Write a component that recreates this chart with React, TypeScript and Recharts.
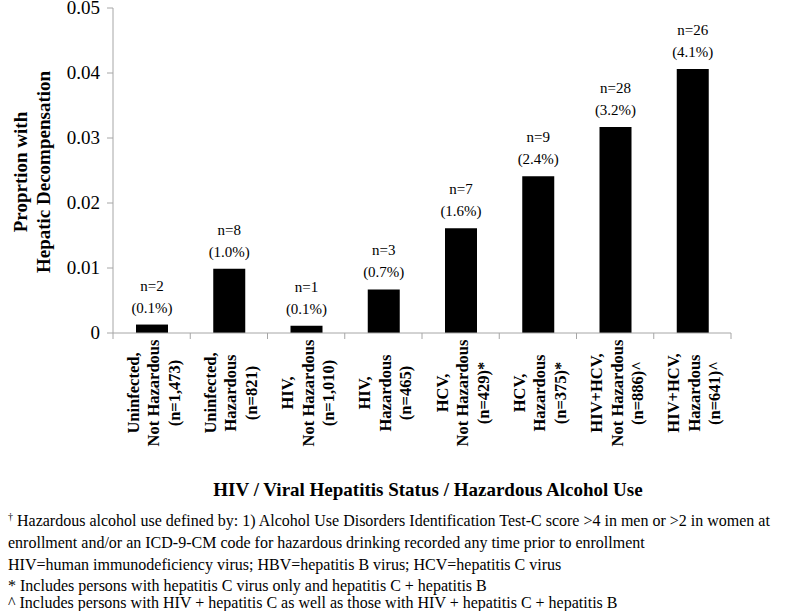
import { BarChart, Bar, XAxis, YAxis, LabelList } from "recharts";

const groups = ["Uninfected,", "Uninfected,", "HIV,", "HIV,", "HCV,", "HCV,", "HIV+HCV,", "HIV+HCV,"];
const alcohol = ["Not Hazardous", "Hazardous", "Not Hazardous", "Hazardous", "Not Hazardous", "Hazardous", "Not Hazardous", "Hazardous"];
const sampleSizes = ["(n=1,473)", "(n=821)", "(n=1,010)", "(n=465)", "(n=429)*", "(n=375)*", "(n=886)^", "(n=641)^"];
const proportions = [0.0013, 0.0099, 0.0011, 0.0067, 0.0161, 0.0241, 0.0317, 0.0406];
const events = [2, 8, 1, 3, 7, 9, 28, 26];
const percents = ["0.1%", "1.0%", "0.1%", "0.7%", "1.6%", "2.4%", "3.2%", "4.1%"];
const yTicks = [0, 0.01, 0.02, 0.03, 0.04, 0.05];

const footnotes = [
  "enrollment and/or an ICD-9-CM code for hazardous drinking recorded any time prior to enrollment",
  "HIV=human immunodeficiency virus; HBV=hepatitis B virus; HCV=hepatitis C virus",
  "* Includes persons with hepatitis C virus only and hepatitis C + hepatitis B",
  "^ Includes persons with HIV + hepatitis C as well as those with HIV + hepatitis C + hepatitis B",
];

const data = proportions.map((v, i) => ({
  key: String(i),
  value: v,
}));

const FONT = "Liberation Serif, Times New Roman, serif";
const AXIS = "#a6a6a6";
const LEFT = 113;
const RIGHT = 731;
const TOP = 8;
const AXIS_Y = 333;
const BAND = (RIGHT - LEFT) / proportions.length;

function XTick({ x, payload }: any) {
  const i = Number(payload.value);
  const lines = [groups[i], alcohol[i], sampleSizes[i]];
  return (
    <g>
      <line x1={x - BAND / 2} x2={x - BAND / 2} y1={AXIS_Y} y2={AXIS_Y + 6} stroke={AXIS} />
      {i === proportions.length - 1 && (
        <line x1={x + BAND / 2} x2={x + BAND / 2} y1={AXIS_Y} y2={AXIS_Y + 6} stroke={AXIS} />
      )}
      <g transform={`translate(${x},393) rotate(-90)`}>
        {lines.map((t, k) => (
          <text
            key={k}
            x={0}
            y={-13 + k * 20.5}
            textAnchor="middle"
            style={{ fontFamily: FONT, fontWeight: "bold", fontSize: 16.5 }}
            fill="#000"
          >
            {t}
          </text>
        ))}
      </g>
    </g>
  );
}

function YTick({ x, y, payload }: any) {
  const v = payload.value;
  return (
    <text x={x} y={y + 6} textAnchor="end" fill="#000" style={{ fontFamily: FONT, fontSize: 19 }}>
      {v === 0 ? "0" : v.toFixed(2)}
    </text>
  );
}

function BarLabel({ x, y, width, index }: any) {
  const cx = x + width / 2;
  const st = { fontFamily: FONT, fontSize: 15 };
  return (
    <g fill="#000">
      <text x={cx} y={y - 34} textAnchor="middle" style={st}>{`n=${events[index]}`}</text>
      <text x={cx} y={y - 12} textAnchor="middle" style={st}>{`(${percents[index]})`}</text>
    </g>
  );
}

export default function App() {
  return (
    <div style={{ position: "absolute", left: 0, top: 0, width: 800, height: 611, background: "#fff", fontFamily: FONT }}>
      <BarChart
        width={800}
        height={611}
        data={data}
        margin={{ top: TOP, right: 800 - RIGHT, bottom: 611 - AXIS_Y - 130, left: LEFT - 60 }}
      >
        <XAxis
          dataKey="key"
          height={130}
          interval={0}
          tickLine={false}
          axisLine={{ stroke: AXIS }}
          tick={<XTick />}
        />
        <YAxis
          width={60}
          domain={[0, 0.05]}
          ticks={yTicks}
          interval={0}
          tickMargin={7}
          axisLine={{ stroke: AXIS }}
          tickLine={{ stroke: AXIS }}
          tick={<YTick />}
        />
        <Bar dataKey="value" fill="#000" barSize={32} isAnimationActive={false}>
          <LabelList dataKey="value" content={<BarLabel />} />
        </Bar>
      </BarChart>
      <svg
        width={800}
        height={611}
        style={{ position: "absolute", left: 0, top: 0, pointerEvents: "none", fontFamily: FONT }}
      >
        <g transform="translate(0,172) rotate(-90)" fill="#000" style={{ fontWeight: "bold", fontSize: 19 }}>
          <text x={0} y={27} textAnchor="middle">Proprtion with</text>
          <text x={0} y={50} textAnchor="middle">Hepatic Decompensation</text>
        </g>
        <text x={428} y={496} textAnchor="middle" fill="#000" style={{ fontWeight: "bold", fontSize: 19 }}>
          HIV / Viral Hepatitis Status / Hazardous Alcohol Use
        </text>
        <text x={8} y={526} fill="#000" style={{ fontSize: 16 }}>
          <tspan style={{ fontSize: 10 }} dy={-6}>†</tspan>
          <tspan dy={6}> Hazardous alcohol use defined by: 1) Alcohol Use Disorders Identification Test-C score &gt;4 in men or &gt;2 in women at</tspan>
        </text>
        {footnotes.map((t, i) => (
          <text key={i} x={8} y={[548, 570, 591, 608][i]} fill="#000" style={{ fontSize: 16 }}>
            {t}
          </text>
        ))}
      </svg>
    </div>
  );
}
